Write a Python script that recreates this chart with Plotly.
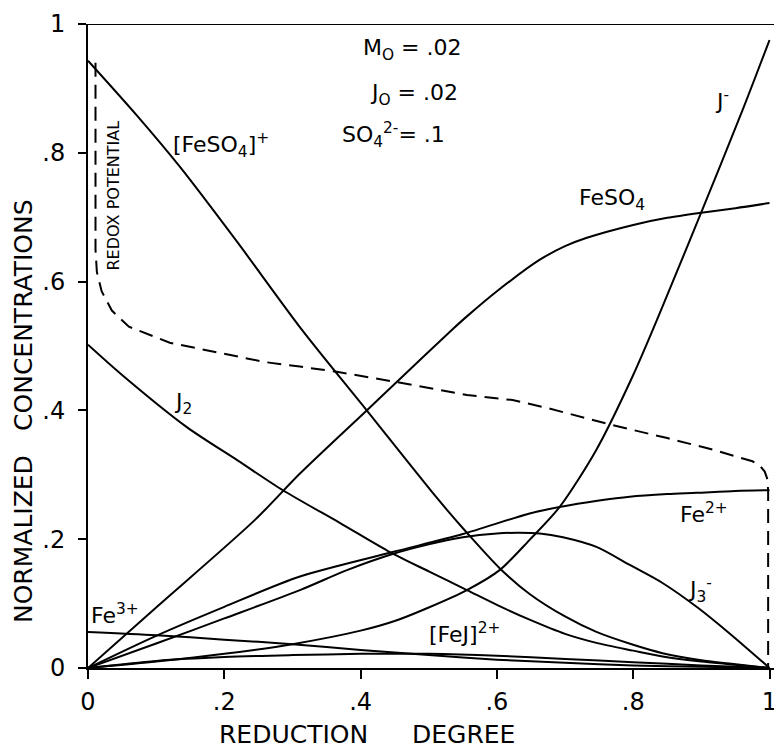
import plotly.graph_objects as go

# ---------------- data ----------------
x_feso4p = [0.0, 0.07, 0.135, 0.22, 0.314, 0.409, 0.512, 0.556, 0.604, 0.648, 0.70, 0.746, 0.80, 0.843, 0.90, 0.941, 1.0]
y_feso4p = [0.943, 0.860, 0.778, 0.660, 0.525, 0.40, 0.264, 0.21, 0.155, 0.115, 0.08, 0.056, 0.036, 0.023, 0.012, 0.007, 0.0]

x_j2 = [0.0, 0.05, 0.145, 0.22, 0.286, 0.37, 0.443, 0.50, 0.556, 0.60, 0.648, 0.70, 0.746, 0.80, 0.843, 0.90, 0.94, 1.0]
y_j2 = [0.502, 0.455, 0.374, 0.322, 0.276, 0.225, 0.18, 0.15, 0.121, 0.098, 0.075, 0.053, 0.039, 0.027, 0.018, 0.010, 0.006, 0.0]

x_feso4 = [0.0, 0.1, 0.245, 0.311, 0.409, 0.453, 0.535, 0.556, 0.60, 0.663, 0.70, 0.732, 0.80, 0.85, 0.90, 0.95, 1.0]
y_feso4 = [0.0, 0.094, 0.23, 0.302, 0.40, 0.444, 0.526, 0.546, 0.585, 0.634, 0.655, 0.668, 0.688, 0.699, 0.707, 0.714, 0.722]

x_jm = [0.0, 0.1, 0.2, 0.3, 0.4, 0.45, 0.5, 0.556, 0.604, 0.648, 0.692, 0.746, 0.8, 0.839, 0.9, 0.96, 1.0]
y_jm = [0.0, 0.010, 0.022, 0.037, 0.058, 0.073, 0.094, 0.121, 0.152, 0.199, 0.25, 0.339, 0.455, 0.551, 0.708, 0.865, 0.975]

x_fe2 = [0.0, 0.1, 0.2, 0.311, 0.447, 0.55, 0.648, 0.692, 0.75, 0.795, 0.85, 0.893, 0.95, 1.0]
y_fe2 = [0.0, 0.05, 0.095, 0.142, 0.18, 0.208, 0.24, 0.25, 0.26, 0.266, 0.27, 0.272, 0.275, 0.276]

x_j3 = [0.0, 0.1, 0.2, 0.311, 0.38, 0.447, 0.5, 0.55, 0.6, 0.63, 0.663, 0.697, 0.746, 0.795, 0.843, 0.893, 0.941, 1.0]
y_j3 = [0.0, 0.038, 0.077, 0.121, 0.152, 0.177, 0.192, 0.203, 0.209, 0.21, 0.209, 0.203, 0.188, 0.16, 0.132, 0.095, 0.054, 0.0]

x_fe3 = [0.0, 0.1, 0.2, 0.3, 0.4, 0.5, 0.6, 0.7, 0.8, 0.9, 1.0]
y_fe3 = [0.056, 0.051, 0.044, 0.037, 0.028, 0.020, 0.013, 0.008, 0.004, 0.002, 0.0]

x_fej = [0.0, 0.1, 0.2, 0.3, 0.4, 0.5, 0.6, 0.7, 0.8, 0.9, 1.0]
y_fej = [0.0, 0.011, 0.017, 0.020, 0.022, 0.022, 0.019, 0.014, 0.009, 0.004, 0.0]

x_redox = [0.011, 0.011, 0.013, 0.02, 0.035, 0.06, 0.12, 0.2, 0.26, 0.311, 0.365, 0.453, 0.556, 0.623, 0.673,
           0.77, 0.85, 0.917, 0.955, 0.975, 0.986, 0.993, 0.997, 0.998, 0.998]
y_redox = [0.94, 0.65, 0.615, 0.585, 0.555, 0.53, 0.505, 0.488, 0.475, 0.468, 0.46, 0.444, 0.424, 0.416, 0.404,
           0.377, 0.357, 0.339, 0.328, 0.321, 0.314, 0.305, 0.293, 0.275, 0.0]

tick_vals = [0, 0.2, 0.4, 0.6, 0.8, 1.0]
tick_text = ["0", ".2", ".4", ".6", ".8", "1"]

FONT = "DejaVu Sans"

fig = go.Figure()

solid = [
    (x_feso4p, y_feso4p, "[FeSO4]+"),
    (x_j2, y_j2, "J2"),
    (x_feso4, y_feso4, "FeSO4"),
    (x_jm, y_jm, "J-"),
    (x_fe2, y_fe2, "Fe2+"),
    (x_j3, y_j3, "J3-"),
    (x_fe3, y_fe3, "Fe3+"),
    (x_fej, y_fej, "[FeJ]2+"),
]
for xs, ys, nm in solid:
    fig.add_trace(go.Scatter(x=xs, y=ys, mode="lines", name=nm,
                             line=dict(color="black", width=2, shape="spline", smoothing=0.8)))

fig.add_trace(go.Scatter(x=x_redox, y=y_redox, mode="lines", name="Redox potential",
                         line=dict(color="black", width=2, dash="14px,8px")))

# in-plot labels
labels = [
    ("[FeSO<sub>4</sub>]<sup>+</sup>", 0.195, 0.812),
    ("J<sub>2</sub>", 0.139, 0.411),
    ("Fe<sup>3+</sup>", 0.040, 0.084),
    ("[FeJ]<sup>2+</sup>", 0.553, 0.054),
    ("Fe<sup>2+</sup>", 0.904, 0.241),
    ("J<sub>3</sub><sup>-</sup>", 0.898, 0.121),
    ("FeSO<sub>4</sub>", 0.769, 0.727),
    ("J<sup>-</sup>", 0.930, 0.882),
    ("M<sub>O</sub> = .02", 0.476, 0.960),
    ("J<sub>O</sub> = .02", 0.478, 0.890),
    ("SO<sub>4</sub><sup>2-</sup>= .1", 0.448, 0.828),
]
for txt, xx, yy in labels:
    fig.add_annotation(x=xx, y=yy, xref="x", yref="y", text=txt, showarrow=False,
                       font=dict(family=FONT, size=22, color="black"),
                       xanchor="center", yanchor="middle")

fig.add_annotation(x=0.037, y=0.734, xref="x", yref="y", text="REDOX POTENTIAL", showarrow=False,
                   textangle=-90, font=dict(family=FONT, size=16, color="black"),
                   xanchor="center", yanchor="middle")

# axis titles
for txt, xx, yy, ang in [("REDUCTION", 0.299, -0.104, 0), ("DEGREE", 0.548, -0.104, 0),
                         ("NORMALIZED", -0.095, 0.20, -90), ("CONCENTRATIONS", -0.095, 0.548, -90)]:
    fig.add_annotation(x=xx, y=yy, xref="paper", yref="paper", text=txt, showarrow=False,
                       textangle=ang, font=dict(family=FONT, size=25, color="black"),
                       xanchor="center", yanchor="middle")

# top frame line
fig.add_shape(type="line", xref="paper", yref="y", x0=-8 / 686, x1=1, y0=1, y1=1,
              line=dict(color="black", width=2))

fig.update_layout(
    width=774, height=751,
    margin=dict(l=88, r=0, t=24, b=83, pad=0),
    paper_bgcolor="white", plot_bgcolor="white",
    showlegend=False,
    font=dict(family=FONT, color="black"),
)
fig.update_xaxes(range=[0, 686 / 681.5], tickvals=tick_vals, ticktext=tick_text,
                 showline=True, linecolor="black", linewidth=2, ticks="outside",
                 ticklen=9, tickwidth=2, tickcolor="black", showgrid=False, zeroline=False,
                 tickfont=dict(family=FONT, size=24, color="black"), automargin=False,
                 ticklabelstandoff=2, ticklabeloverflow="allow")
fig.update_yaxes(range=[0, 1], tickvals=tick_vals, ticktext=tick_text,
                 showline=True, linecolor="black", linewidth=2, ticks="outside",
                 ticklen=8, tickwidth=2, tickcolor="black", showgrid=False, zeroline=False,
                 tickfont=dict(family=FONT, size=24, color="black"), automargin=False,
                 ticklabelstandoff=8, ticklabeloverflow="allow")

# remove the default page margin so the 774x751 figure fills the window exactly
fig.write_html("out.html", config={"displayModeBar": False},
               post_script="document.body.style.margin='0';document.body.style.padding='0';"
                           "document.body.style.overflow='hidden';")
